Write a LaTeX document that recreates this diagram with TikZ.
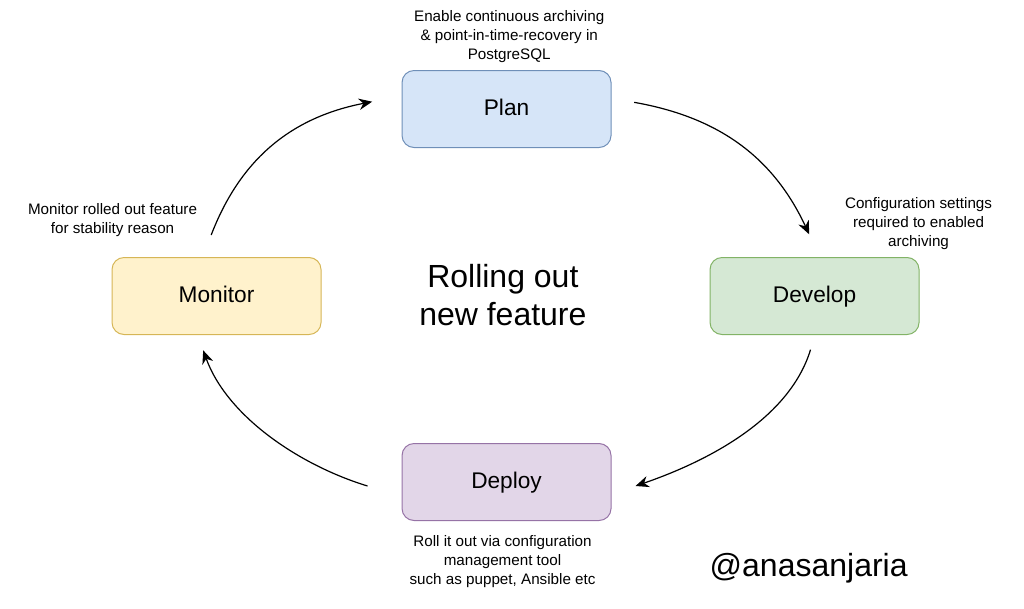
\documentclass[tikz,border=0pt]{standalone}
\usepackage{fontspec}
\setmainfont{Liberation Sans}
\usetikzlibrary{positioning}
\usetikzlibrary{arrows.meta}
\definecolor{planfill}{HTML}{D6E5F8}
\definecolor{plandraw}{HTML}{6F8FB8}
\definecolor{devfill}{HTML}{D5E8D4}
\definecolor{devdraw}{HTML}{82B366}
\definecolor{depfill}{HTML}{E2D6E8}
\definecolor{depdraw}{HTML}{9673A6}
\definecolor{monfill}{HTML}{FFF2CC}
\definecolor{mondraw}{HTML}{D6B656}
\tikzset{
  phase/.style   = { rectangle, rounded corners=9pt, minimum width=156.75pt, minimum height=57.75pt, line width=0.75pt, text height=12.5pt, text depth=3.5pt, font=\fontsize{17}{20}\selectfont },
  note/.style    = { align=center, inner sep=0pt, font=\fontsize{11.4}{14.25}\selectfont },
  title/.style   = { align=center, inner sep=0pt, font=\fontsize{24}{28.5}\selectfont },
  flow/.style    = { -{Stealth[length=10pt,width=8.5pt]}, line width=0.9pt },
}
\begin{document}
\begin{tikzpicture}
  \useasboundingbox (0,0) rectangle (768pt,-456pt);

  \node (plan)    [phase,fill=planfill,draw=plandraw] at (379.9pt,-81.75pt)    {Plan};
  \node (develop) [phase,fill=devfill,draw=devdraw,below right=81.75pt and 73.5pt of plan] {Develop};
  \node (monitor) [phase,fill=monfill,draw=mondraw,below left=81.75pt and 60pt of plan]    {Monitor};
  \node (deploy)  [phase,fill=depfill,draw=depdraw,below=221.25pt of plan]     {Deploy};

  \node (center)  [title,below=86.75pt of plan,xshift=-2.75pt]                 {Rolling out\\new feature};

  \node (plannote)    [note,above=5pt of plan,xshift=2pt]                      {Enable continuous archiving\\\& point-in-time-recovery in\\PostgreSQL};
  \node (devnote)     [note,above=5pt of develop,xshift=78pt]                  {Configuration settings\\required to enabled\\archiving};
  \node (monitornote) [note,above=15pt of monitor,xshift=-78pt]                {Monitor rolled out feature\\for stability reason};
  \node (deploynote)  [note,below=10.5pt of deploy,xshift=-3pt]                {Roll it out via configuration\\management tool\\such as puppet, Ansible etc};
  \node (handle)      [title] at (606.5pt,-426.5pt)                            {@anasanjaria};

  \coordinate (planout)    at ([xshift=17pt,yshift=5pt]plan.east);
  \coordinate (devin)      at ([xshift=-4pt,yshift=17pt]develop.north);
  \coordinate (devout)     at ([xshift=-3pt,yshift=-11pt]develop.south);
  \coordinate (deployin)   at ([xshift=18pt,yshift=-3pt]deploy.east);
  \coordinate (deployout)  at ([xshift=-25.5pt,yshift=-3pt]deploy.west);
  \coordinate (monitorin)  at ([xshift=-10pt,yshift=-11.5pt]monitor.south);
  \coordinate (monitorout) at ([xshift=-4pt,yshift=16.5pt]monitor.north);
  \coordinate (planin)     at ([xshift=-22pt,yshift=5.5pt]plan.west);

  \draw [flow] (planout)    to [out=-10,in=115] (devin);
  \draw [flow] (devout)     to [out=-107,in=19,looseness=0.85] (deployin);
  \draw [flow] (deployout)  to [out=163,in=-70,looseness=0.85] (monitorin);
  \draw [flow] (monitorout) to [out=69,in=191]  (planin);
\end{tikzpicture}
\end{document}
